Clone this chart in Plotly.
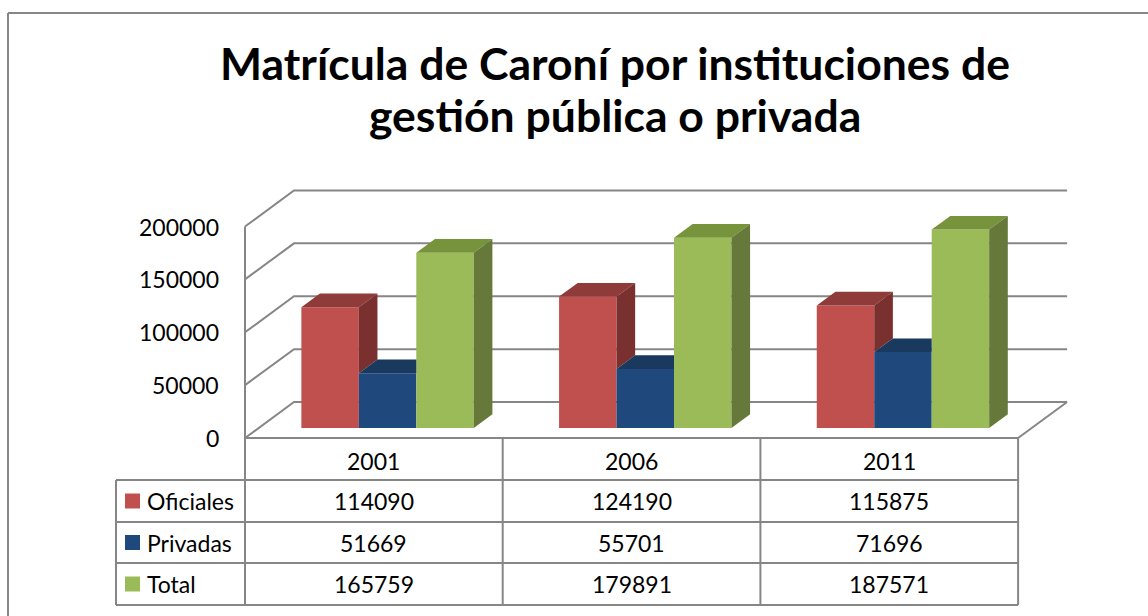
import plotly.graph_objects as go

# ---------------- data ----------------
years = ["2001", "2006", "2011"]
series_names = ["Oficiales", "Privadas", "Total"]
oficiales = [114090, 124190, 115875]
privadas = [51669, 55701, 71696]
total = [165759, 179891, 187571]
y_ticks = [0, 50000, 100000, 150000, 200000]
title_lines = ["Matrícula de Caroní por instituciones de", "gestión pública o privada"]

series_values = [oficiales, privadas, total]
front_colors = ["#C0504D", "#1F497D", "#9BBB59"]
top_colors = ["#8F3B39", "#19395F", "#77933C"]
side_colors = ["#7A302E", "#152F50", "#66783A"]
grid_color = "#868686"
FONT = "Lato"

# ---------------- geometry (layout only) ----------------
W, H = 1148, 616
X0PX, COLPX = 245.0, 257.7          # front-left floor corner, table column width
Y0PX, KPX = 438.0, 211.5 / 200000   # front floor line, px per unit


def u(px):
    return (px - X0PX) / COLPX


def yv(py):
    return (Y0PX - py) / KPX


DU = 49 / COLPX        # floor depth, x units
DY = 36 / KPX          # floor depth, y units
F0, F1 = 0.28, 0.66    # bar front / back depth fractions
BW = 0.223             # bar width
ncat = len(years)
ymax = y_ticks[-1]

fig = go.Figure()

# ---------------- bars ----------------
bar_x = []
for k, vals in enumerate(series_values):
    xs = [i + 0.5 + (k - 1) * BW + F0 * DU for i in range(ncat)]
    bar_x.append(xs)
    fig.add_trace(go.Bar(
        x=xs, y=vals, base=[F0 * DY] * ncat, width=[BW] * ncat,
        marker=dict(color=front_colors[k], line=dict(width=0)),
        name=series_names[k], hoverinfo="name+y",
    ))

ddu = (F1 - F0) * DU
ddy = (F1 - F0) * DY
base = F0 * DY
for i in range(ncat):
    for k, vals in enumerate(series_values):
        xl = bar_x[k][i] - BW / 2
        xr = xl + BW
        yt = vals[i] + base
        nxt = series_values[k + 1][i] + base if k + 1 < len(series_values) else None
        # top face (clipped where the next, taller bar hides it)
        if nxt is not None and nxt >= yt:
            tx = [xl, xr, xr, xl + ddu, xl]
        else:
            tx = [xl, xr, xr + ddu, xl + ddu, xl]
        ty = [yt, yt, yt + ddy, yt + ddy, yt]
        fig.add_trace(go.Scatter(x=tx, y=ty, mode="lines", fill="toself",
                                 fillcolor=top_colors[k], line=dict(width=0),
                                 hoverinfo="skip", showlegend=False))
        # side face (visible part)
        low = base if nxt is None else nxt
        if low < yt:
            sx = [xr, xr, xr + ddu, xr + ddu, xr]
            sy = [low, yt, yt + ddy, low + ddy, low]
            fig.add_trace(go.Scatter(x=sx, y=sy, mode="lines", fill="toself",
                                     fillcolor=side_colors[k], line=dict(width=0),
                                     hoverinfo="skip", showlegend=False))

# ---------------- walls / gridlines ----------------
shapes = []
for t in y_ticks:
    shapes.append(dict(type="path", xref="x", yref="y", layer="below",
                       path=f"M 0,{t} L {DU},{t + DY} L {ncat + DU},{t + DY}",
                       line=dict(color=grid_color, width=2)))
shapes.append(dict(type="line", xref="x", yref="y", layer="below",
                   x0=0, y0=0, x1=0, y1=ymax, line=dict(color=grid_color, width=2)))
shapes.append(dict(type="line", xref="x", yref="y", layer="below",
                   x0=ncat, y0=0, x1=ncat + DU, y1=DY, line=dict(color=grid_color, width=2)))

# ---------------- data table ----------------
row_px = [438, 480, 522, 563, 605]
lab_left = u(116)
tc = grid_color
shapes.append(dict(type="line", xref="x", yref="y", x0=0, x1=ncat, y0=yv(row_px[0]), y1=yv(row_px[0]),
                   line=dict(color=tc, width=2)))
for r in row_px[1:]:
    shapes.append(dict(type="line", xref="x", yref="y", x0=lab_left, x1=ncat, y0=yv(r), y1=yv(r),
                       line=dict(color=tc, width=2)))
for c in range(ncat + 1):
    shapes.append(dict(type="line", xref="x", yref="y", x0=c, x1=c, y0=yv(row_px[0]), y1=yv(row_px[-1]),
                       line=dict(color=tc, width=2)))
shapes.append(dict(type="line", xref="x", yref="y", x0=lab_left, x1=lab_left, y0=yv(row_px[1]),
                   y1=yv(row_px[-1]), line=dict(color=tc, width=2)))

annotations = []
for i, yr in enumerate(years):
    annotations.append(dict(x=i + 0.5, y=yv((row_px[0] + row_px[1]) / 2 + 2), xref="x", yref="y",
                            text=yr, showarrow=False, xanchor="center", yanchor="middle",
                            font=dict(family=FONT, size=23, color="black")))
for k, vals in enumerate(series_values):
    ymid = yv((row_px[k + 1] + row_px[k + 2]) / 2)
    shapes.append(dict(type="rect", xref="x", yref="y", x0=u(125), x1=u(140),
                       y0=ymid - 7.5 / KPX, y1=ymid + 7.5 / KPX,
                       fillcolor=front_colors[k], line=dict(width=0)))
    annotations.append(dict(x=u(145), y=ymid, xref="x", yref="y", text=series_names[k],
                            showarrow=False, xanchor="left", yanchor="middle",
                            font=dict(family=FONT, size=23, color="black")))
    for i, v in enumerate(vals):
        annotations.append(dict(x=i + 0.5, y=ymid, xref="x", yref="y", text=str(v),
                                showarrow=False, xanchor="center", yanchor="middle",
                                font=dict(family=FONT, size=23, color="black")))

for t in y_ticks:
    annotations.append(dict(x=0, y=t, xref="x", yref="y", text=str(t), showarrow=False,
                            xanchor="right", yanchor="middle", xshift=-24,
                            font=dict(family=FONT, size=23, color="black")))

# title (two lines)
for line, cy in zip(title_lines, [62, 114]):
    annotations.append(dict(x=u(615), y=yv(cy), xref="x", yref="y", text=f"<b>{line}</b>",
                            showarrow=False, xanchor="center", yanchor="middle",
                            font=dict(family=FONT, size=44.5, color="black")))

# chart border (left & top)
shapes.append(dict(type="line", xref="x", yref="y", x0=u(8), x1=u(8), y0=yv(13), y1=yv(H + 5),
                   line=dict(color=grid_color, width=2)))
shapes.append(dict(type="line", xref="x", yref="y", x0=u(8), x1=u(W + 5), y0=yv(13), y1=yv(13),
                   line=dict(color=grid_color, width=2)))

fig.update_layout(
    width=W, height=H, margin=dict(l=0, r=0, t=0, b=0),
    paper_bgcolor="white", plot_bgcolor="white", showlegend=False,
    barmode="overlay",
    xaxis=dict(range=[u(0), u(W)], visible=False, fixedrange=True),
    yaxis=dict(range=[yv(H), yv(0)], visible=False, fixedrange=True),
    shapes=shapes, annotations=annotations,
)

fig.write_html("out.html", config={"displayModeBar": False},
               post_script="document.body.style.margin='0';document.body.style.overflow='hidden';")
